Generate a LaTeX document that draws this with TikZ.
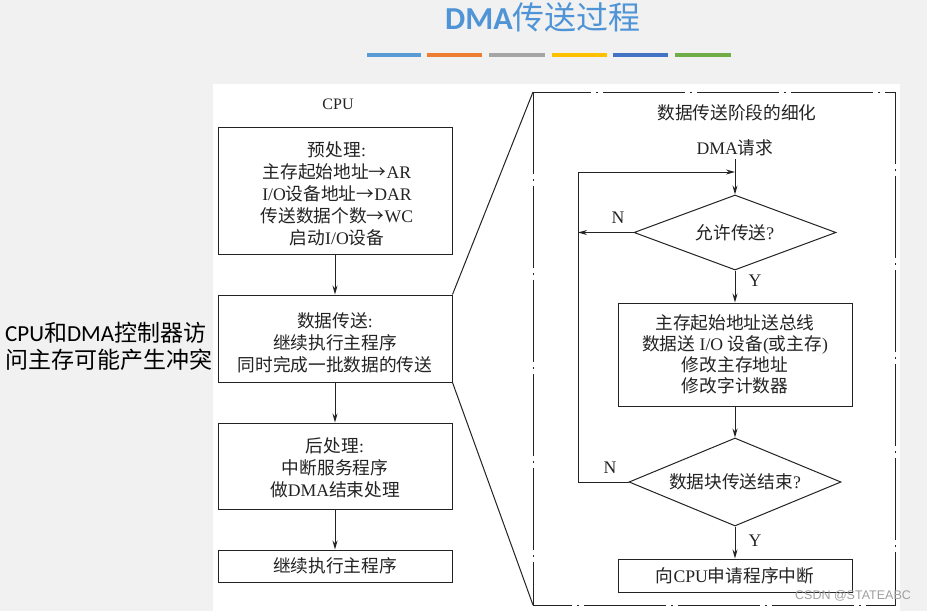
\documentclass[tikz,border=0pt]{standalone}
\usepackage{fontspec}
\setmainfont{Liberation Serif}
\newfontfamily\cjk{Noto Sans CJK SC}
\newfontfamily\cali{Carlito}
\newfontfamily\lsans{Liberation Sans}
\usetikzlibrary{shapes.geometric,arrows.meta}
\newcommand\zh[1]{{\cjk #1}}
\newcommand\fsz{\fontsize{17.7}{22}\selectfont}
\definecolor{bgc}{RGB}{241,241,241}
\definecolor{titc}{RGB}{79,148,214}
\definecolor{cA}{RGB}{91,155,213}
\definecolor{cB}{RGB}{237,125,49}
\definecolor{cC}{RGB}{165,165,165}
\definecolor{cD}{RGB}{255,192,0}
\definecolor{cE}{RGB}{68,114,196}
\definecolor{cF}{RGB}{112,173,71}
\definecolor{ink}{RGB}{35,35,35}
\tikzset{
  boxnode/.style={draw=ink, line width=1pt, minimum width=234pt, inner sep=0pt, align=center, font=\fsz, text=ink},
  dianode/.style={draw=ink, diamond, line width=1pt, inner sep=0pt},
  diatext/.style={font=\fsz, text=ink, inner sep=0pt},
  arr/.style={draw=ink, -{Stealth[length=9pt,width=5pt]}, line width=1pt},
  plain/.style={draw=ink, line width=1pt},
  lbl/.style={font=\fontsize{17.7}{18}\selectfont, text=ink, inner sep=0pt},
  bar/.style={line width=4pt}
}
\begin{document}
\begin{tikzpicture}[x=1pt,y=-1pt]
\useasboundingbox (0,0) rectangle (927,611);
\fill[bgc] (0,0) rectangle (927,611);
\fill[white] (213,84) rectangle (900,611);
% title
\node[text=titc, font=\fontsize{32}{36}\selectfont, inner sep=0pt] (title) at (543,17) {{\cali\bfseries DMA}\zh{传送过程}};
\draw[bar, cA] (367,55) -- (421,55);
\draw[bar, cB] (427,55) -- (482,55);
\draw[bar, cC] (489,55) -- (545,55);
\draw[bar, cD] (552,55) -- (607,55);
\draw[bar, cE] (613,55) -- (668,55);
\draw[bar, cF] (675,55) -- (731,55);
% left remark
\node[anchor=west, align=left, inner sep=0pt, font=\fontsize{23}{27}\selectfont] (remark) at (5,346)
  {{\cali CPU}\zh{和}{\cali DMA}\zh{控制器访}\\\zh{问主存可能产生冲突}};
% CPU column
\node[lbl, font=\fontsize{16}{18}\selectfont] (cpu) at (338,104) {CPU};
\node[boxnode, minimum height=127pt] (b1) at (335,190.5) {};
\node[boxnode, draw=none, minimum width=0pt] (b1t) at (337,194)
  {\zh{预处理}:\\\zh{主存起始地址→}AR\\I/O\zh{设备地址→}DAR\\\zh{传送数据个数→}WC\\\zh{启动}I/O\zh{设备}};
\node[boxnode, minimum height=87pt] (b2) at (335,338.5) {};
\node[boxnode, draw=none, minimum width=0pt] (b2t) at (335,343)
  {\zh{数据传送}:\\\zh{继续执行主程序}\\\zh{同时完成一批数据的传送}};
\node[boxnode, minimum height=86pt] (b3) at (335,466) {};
\node[boxnode, draw=none, minimum width=0pt] (b3t) at (335,468)
  {\zh{后处理}:\\\zh{中断服务程序}\\\zh{做}DMA\zh{结束处理}};
\node[boxnode, minimum height=32pt] (b4) at (335,566) {\zh{继续执行主程序}};
\draw[arr] (b1) -- (b2);
\draw[arr] (b2) -- (b3);
\draw[arr] (b3) -- (b4);
% frame
\coordinate (ftl) at (533,92);
\coordinate (fbr) at (895,605);
\coordinate (fbl) at (533,605);
\draw[plain, dash pattern=on 82pt off 5pt on 2pt off 5pt] (ftl) rectangle (fbr);
\draw[plain] (b2.north east) -- (ftl);
\draw[plain] (b2.south east) -- (fbl);
% detail
\node[lbl] (dtitle) at (737,113) {\zh{数据传送阶段的细化}};
\node[lbl] (req) at (735,148) {DMA\zh{请求}};
\node[dianode, minimum width=202pt, minimum height=75pt] (d1) at (735,232.5) {};
\node[diatext] (d1t) at (d1.center) {\zh{允许传送}?};
\node[boxnode, minimum height=103pt, font=\fontsize{17.7}{21}\selectfont] (bA) at (735,354.5)
  {\zh{主存起始地址送总线}\\\zh{数据送} I/O \zh{设备}(\zh{或主存})\\\zh{修改主存地址}\\\zh{修改字计数器}};
\node[dianode, minimum width=212pt, minimum height=88pt] (d2) at (735,482) {};
\node[diatext] (d2t) at (d2.center) {\zh{数据块传送结束}?};
\node[boxnode, minimum height=33pt] (bB) at (735,575.5) {\zh{向}CPU\zh{申请程序中断}};
\coordinate (lt) at (578,172);
\coordinate (lb) at (578,482);
\coordinate (la) at (578,232.5);
\coordinate (tin) at (735,172);
\draw[arr] ([yshift=-3pt]req.south) -- (d1.north);
\draw[arr] (d1.west) -- (la);
\draw[arr] (d1.south) -- (bA.north);
\draw[arr] (bA.south) -- (d2.north);
\draw[arr] (d2.south) -- (bB.north);
\draw[arr] (d2.west) -- (lb) -- (lt) -- (tin);
\node[lbl] (n1) at (618,218) {N};
\node[lbl] (y1) at (755,281) {Y};
\node[lbl] (n2) at (610,468) {N};
\node[lbl] (y2) at (755,541) {Y};
% watermark
\node[text=gray!75, font=\lsans\fontsize{12.5}{14}\selectfont, inner sep=0pt] (wm) at (853,596) {CSDN @STATEABC};
\end{tikzpicture}
\end{document}
